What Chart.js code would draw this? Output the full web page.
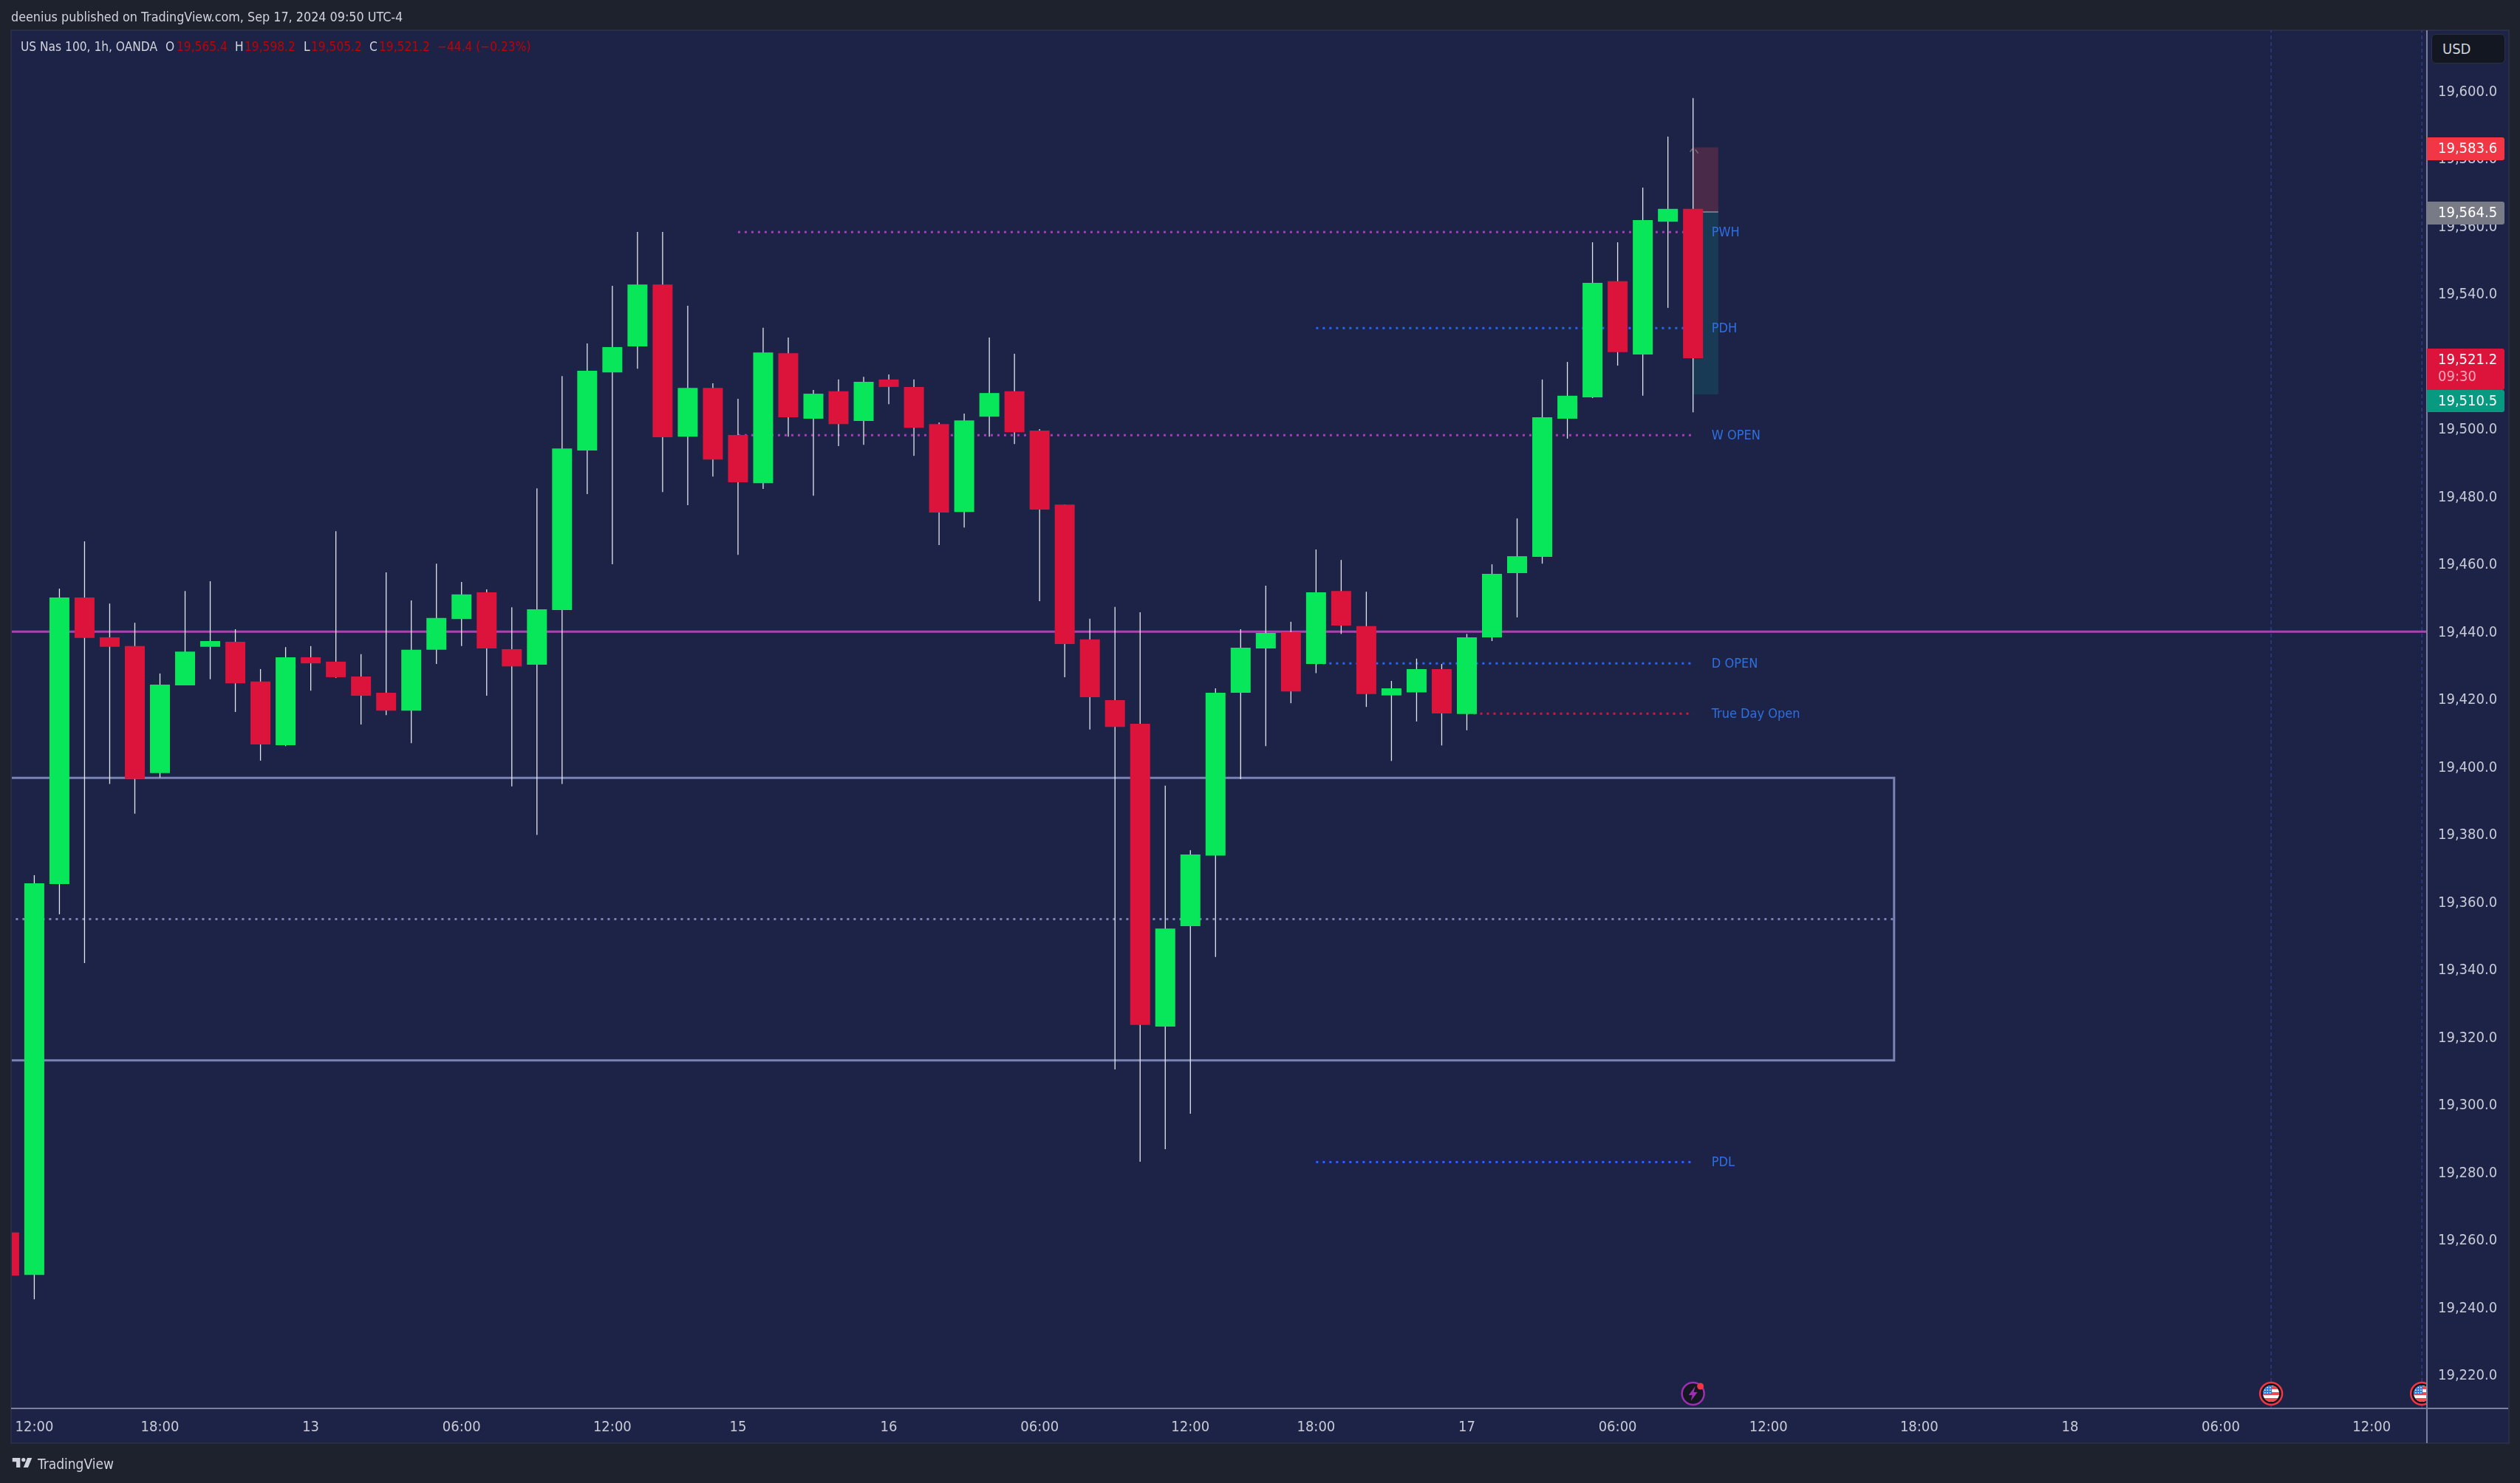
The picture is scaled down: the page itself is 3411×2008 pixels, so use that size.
<!DOCTYPE html>
<html><head><meta charset="utf-8">
<script src="https://cdn.jsdelivr.net/npm/chart.js@4"></script>
<style>
html,body{margin:0;padding:0;background:#1e222d;width:3411px;height:2008px;overflow:hidden;font-family:"DejaVu Sans Condensed","DejaVu Sans",sans-serif}
canvas{position:absolute;left:0;top:0}
.t{position:absolute;white-space:nowrap;font-size:17.2px;line-height:24px;color:#d1d4dc}
.r{color:#c40000}
#usd{position:absolute;left:3291px;top:46px;width:98px;height:38px;background:#131722;border:1px solid #2e3240;border-radius:6px;color:#d1d4dc;font-size:20px;line-height:38px;text-indent:14px}
</style></head><body>
<canvas id="c" width="3411" height="2008"></canvas>
<div class="t" style="left:15px;top:11px;font-size:17.8px">deenius published on TradingView.com, Sep 17, 2024 09:50 UTC-4</div>
<div class="t" style="left:28px;top:51px">US Nas 100, 1h, OANDA</div>
<div class="t" style="left:224px;top:51px">O</div><div class="t r" style="left:239px;top:51px">19,565.4</div>
<div class="t" style="left:318px;top:51px">H</div><div class="t r" style="left:331px;top:51px">19,598.2</div>
<div class="t" style="left:411px;top:51px">L</div><div class="t r" style="left:421px;top:51px">19,505.2</div>
<div class="t" style="left:500px;top:51px">C</div><div class="t r" style="left:513px;top:51px">19,521.2</div>
<div class="t r" style="left:592px;top:51px">−44.4 (−0.23%)</div>
<div id="usd">USD</div>
<svg style="position:absolute;left:15px;top:1973px" width="30" height="15" viewBox="0 6 34 15"><path fill="#d1d4dc" d="M14 6H2v6h6v9h6V6zm12 15h-7l6-15h7l-6 15zm-7-9a3 3 0 1 0 0-6 3 3 0 0 0 0 6z"/></svg>
<div class="t" style="left:51px;top:1970px;font-size:19px">TradingView</div>
<script>
const opens=[19262.5,19249.9,19365.6,19450.4,19438.6,19436,19398.4,19424.4,19435.8,19437.3,19425.5,19406.7,19432.7,19431.4,19427,19422.2,19416.9,19434.9,19444,19451.9,19435.1,19430.5,19446.7,19493.9,19517,19524.7,19543,19498,19512.4,19498.5,19484.2,19522.7,19503.3,19511.4,19502.6,19514.9,19512.7,19501.7,19475.7,19503.9,19511.4,19499.8,19477.9,19438,19420,19413,19323.4,19353.1,19374,19422.2,19435.3,19440.1,19430.7,19452.3,19441.9,19421.4,19422.3,19429.2,19415.9,19438.6,19457.6,19462.4,19503.3,19509.6,19544,19522.3,19561.6,19565.4];
const highs=[19262.5,19368.2,19453,19467,19448.6,19442.9,19427.9,19452.3,19455.2,19441,19429.2,19435.7,19436,19470,19433.6,19457.8,19449.5,19460.4,19455,19452.8,19447.5,19482.7,19515.9,19525.6,19542.6,19558.6,19558.6,19536.7,19513.8,19509.2,19530.2,19527.3,19511.8,19514.9,19515.7,19516.4,19514.9,19502.2,19504.8,19527.3,19522.5,19500.2,19477.9,19444.1,19447.6,19446,19394.7,19375.6,19423.5,19441,19453.9,19443.2,19464.6,19461.5,19452.1,19425.7,19432.3,19430.7,19439.6,19460.2,19473.8,19514.9,19520.1,19555.5,19555.5,19571.7,19586.8,19598.2];
const lows=[19249.7,19242.7,19356.6,19342.2,19395.2,19386.4,19397.1,19424.4,19426.2,19416.5,19402.1,19406.4,19422.8,19426.6,19412.8,19415.6,19407.3,19430.7,19436,19421.3,19394.5,19380.1,19395.2,19481,19460.2,19518.1,19481.6,19477.7,19486.2,19463,19482.5,19498,19480.5,19495.2,19495.6,19507.6,19492.3,19465.9,19471.1,19498,19495.8,19449.3,19426.8,19411.3,19310.7,19283.4,19287.1,19297.6,19344,19396.6,19406.4,19419.1,19428,19439.6,19418,19402,19413.7,19406.6,19411.1,19437.5,19444.5,19460.4,19497.4,19509.4,19519,19510.1,19536.1,19505.2];
const closes=[19249.7,19365.8,19450.4,19438.4,19435.8,19396.7,19424.6,19434.4,19437.5,19425,19406.9,19432.7,19430.9,19426.8,19421.3,19416.9,19434.9,19444.3,19451.3,19435.3,19430,19446.9,19494.5,19517.5,19524.5,19543,19497.8,19512.4,19491.2,19484.5,19522.9,19503.7,19510.7,19501.7,19514.2,19512.7,19500.6,19475.5,19502.8,19510.9,19499.3,19476.4,19436.6,19420.9,19412.1,19323.9,19352.4,19374.3,19422.2,19435.5,19439.9,19422.6,19451.9,19442.1,19421.8,19423.5,19429.2,19416.1,19438.6,19457.4,19462.6,19503.7,19510.1,19543.5,19523,19562.1,19565.4,19521.2];
const timeTickBars=[1,6,12,18,24,29,35,41,47,52,58,64,70,76,82,88,94];
const timeTickLabels=["12:00","18:00","13","06:00","12:00","15","16","06:00","12:00","18:00","17","06:00","12:00","18:00","18","06:00","12:00"];
const priceTicks=[19220,19240,19260,19280,19300,19320,19340,19360,19380,19400,19420,19440,19460,19480,19500,19520,19540,19560,19580,19600];
const levelNames=["PWH","PDH","W OPEN","D OPEN","True Day Open","PDL"];
const levelPrices=[19558.5,19530.1,19498.4,19430.9,19416,19283.3];
const levelStarts=[29,52,29,52,58,52];
const levelEnd=67;
const levelColors=["#a83db8","#2962ff","#a83db8","#2962ff","#dc143c","#2962ff"];
const labelBar=67.74;
const boxTop=19397, boxBottom=19313.4, boxMid=19355.2, boxEnd=75;
const pivotPrice=19440.3;
const stopPrice=19583.6, entryPrice=19564.5, targetPrice=19510.5, lastClose=19521.2;
const eventBars=[90,96];
const newsBar=67;
const xMin=0.106,xMax=96.2,yMin=19210.4,yMax=19618.25;

const GREEN="#08e65a",RED="#dc143c",WICK="#e4e6ee";
const FONT='"DejaVu Sans Condensed","DejaVu Sans",sans-serif';
const fmt=v=>v.toLocaleString("en-US",{minimumFractionDigits:1,maximumFractionDigits:1});
const bars=opens.map((_,i)=>i);

function lineDs(points,color,width,dash,order){
  return {type:"line",data:points,borderColor:color,borderWidth:width,borderDash:dash||[],pointRadius:0,tension:0,order:order,borderCapStyle:"butt",borderJoinStyle:"miter",parsing:true};
}
const datasets=[];
// candle bodies and wicks
datasets.push({label:"Body",data:bars.map(i=>({x:i,y:[opens[i],closes[i]]})),backgroundColor:bars.map(i=>closes[i]>=opens[i]?GREEN:RED),barThickness:27,grouped:false,order:1,borderWidth:0,inflateAmount:0});
datasets.push({label:"Wick",data:bars.map(i=>({x:i,y:[lows[i],highs[i]]})),backgroundColor:WICK,barThickness:1.3,grouped:false,order:2,borderWidth:0,inflateAmount:0});
// levels
levelPrices.forEach((p,k)=>datasets.push(lineDs([{x:levelStarts[k],y:p},{x:levelEnd,y:p}],levelColors[k],3,[3,6],5)));
datasets.push(lineDs([{x:0,y:pivotPrice},{x:100,y:pivotPrice}],"#a843b5",3,[],4));
datasets.push(lineDs([{x:0,y:boxTop},{x:boxEnd,y:boxTop},{x:boxEnd,y:boxBottom},{x:0,y:boxBottom}],"#7a84b4",3,[],4));
datasets.push(lineDs([{x:0,y:boxMid},{x:boxEnd,y:boxMid}],"#7a84b4",3,[3,6],4));
eventBars.forEach(b=>datasets.push(lineDs([{x:b,y:yMin},{x:b,y:yMax}],"#3c48a6",1,[5,4],6)));
// position tool
datasets.push({label:"Risk",data:[{x:67.5,y:[entryPrice,stopPrice]}],backgroundColor:"#492a48",barThickness:34.5,grouped:false,order:8,borderWidth:0,inflateAmount:0});
datasets.push({label:"Reward",data:[{x:67.5,y:[targetPrice,entryPrice]}],backgroundColor:"#193a54",barThickness:34.5,grouped:false,order:8,borderWidth:0,inflateAmount:0});
datasets.push(lineDs([{x:67,y:entryPrice},{x:68,y:entryPrice}],"#8b8e99",1.5,[],7));

const overlay={id:"overlay",
  beforeDraw(ch){const c=ch.ctx;c.save();
    c.fillStyle="#1e222d";c.fillRect(0,0,3411,2008);
    c.fillStyle="#1c2347";c.fillRect(15,41,3381,1913);
    c.strokeStyle="#2a2e45";c.lineWidth=2;c.strokeRect(15,41,3381,1913);
    c.restore();},
  afterDatasetsDraw(ch){const c=ch.ctx,X=ch.scales.x,Y=ch.scales.y,A=ch.chartArea;c.save();
    // level captions
    c.font='18px '+FONT;c.fillStyle="#2f6fe0";c.textBaseline="middle";c.textAlign="left";
    levelNames.forEach((n,k)=>c.fillText(n,X.getPixelForValue(labelBar),Y.getPixelForValue(levelPrices[k])+1));
    // caret of the position tool
    const cx=X.getPixelForValue(newsBar),cy=Y.getPixelForValue(stopPrice);
    c.strokeStyle="#6a6c78";c.lineWidth=1.5;c.beginPath();c.moveTo(cx-4,cy+6);c.lineTo(cx-1,cy+2);c.moveTo(cx+3,cy+3);c.lineTo(cx+7,cy+8);c.stroke();
    // markers
    c.beginPath();c.rect(A.left,A.top,A.right-A.left,A.bottom-A.top);c.clip();
    const my=1887;
    const nx=X.getPixelForValue(newsBar);
    c.beginPath();c.arc(nx,my,15,0,Math.PI*2);c.fillStyle="#131722";c.fill();c.strokeStyle="#9c2fb0";c.lineWidth=2.5;c.stroke();
    c.fillStyle="#9c2fb0";c.beginPath();c.moveTo(nx+3,my-10);c.lineTo(nx-6,my+2);c.lineTo(nx-1,my+2);c.lineTo(nx-3,my+10);c.lineTo(nx+6,my-2);c.lineTo(nx+1,my-2);c.closePath();c.fill();
    c.beginPath();c.arc(nx+10,my-10,4.5,0,Math.PI*2);c.fillStyle="#f23645";c.fill();
    eventBars.forEach(b=>{const x=X.getPixelForValue(b);
      c.save();
      c.beginPath();c.arc(x,my,15,0,Math.PI*2);c.fillStyle="#131722";c.fill();c.strokeStyle="#f23645";c.lineWidth=2.5;c.stroke();
      c.beginPath();c.arc(x,my,11,0,Math.PI*2);c.clip();
      c.fillStyle="#fff";c.fillRect(x-12,my-12,24,24);
      c.fillStyle="#f0484f";for(let i=0;i<3;i++)c.fillRect(x-12,my-10+i*8,24,4);
      c.fillRect(x-12,my+6,24,6);
      c.fillStyle="#2d7de0";c.fillRect(x-12,my-12,13,13);
      c.fillStyle="#fff";for(let i=0;i<3;i++)for(let j=0;j<3;j++)c.fillRect(x-9+i*3.5,my-9+j*3.5,1.5,1.5);
      c.restore();});
    c.restore();},
  afterDraw(ch){const c=ch.ctx,Y=ch.scales.y,A=ch.chartArea;c.save();
    // axis borders
    c.fillStyle="#7c7f9e";c.fillRect(A.left-1,A.bottom-1,3396-A.left,2);c.fillRect(A.right-1,41,2,1913);
    // price tags
    const x0=A.right,w=105;
    c.textBaseline="middle";c.textAlign="left";
    function tag(top,h,col,txt){c.fillStyle=col;c.beginPath();c.roundRect(x0,top,w,h,[0,3,3,0]);c.fill();
      c.fillStyle="#fff";c.font='20px '+FONT;c.fillText(txt,x0+15,top+15.5);}
    tag(Y.getPixelForValue(stopPrice)-13.5,31,"#f23645",fmt(stopPrice));
    tag(Y.getPixelForValue(entryPrice)-14,31,"#787b86",fmt(entryPrice));
    const ct=Y.getPixelForValue(lastClose)-13;
    tag(ct,56,"#dc143c",fmt(lastClose));
    c.fillStyle="rgba(255,255,255,.62)";c.font='20px '+FONT;c.fillText("09:30",x0+15,ct+39);
    tag(ct+56,30,"#089981",fmt(targetPrice));
    c.restore();}
};

new Chart(document.getElementById("c"),{
  type:"bar",
  data:{datasets},
  plugins:[overlay],
  options:{
    responsive:false,animation:false,devicePixelRatio:1,
    layout:{padding:{left:16,top:41,right:15,bottom:54}},
    plugins:{legend:{display:false},tooltip:{enabled:false},title:{display:false}},
    scales:{
      x:{type:"linear",offset:false,min:xMin,max:xMax,grid:{display:false,drawTicks:false},border:{display:false},
        afterBuildTicks(s){s.ticks=timeTickBars.map(v=>({value:v}));},
        afterFit(s){s.height=47;},
        ticks:{autoSkip:false,maxRotation:0,minRotation:0,padding:14,color:"#c8cad6",font:{family:FONT,size:20},
          callback(v){const k=timeTickBars.indexOf(v);return k<0?"":timeTickLabels[k];}}},
      y:{type:"linear",position:"right",min:yMin,max:yMax,grid:{display:false,drawTicks:false},border:{display:false},
        afterBuildTicks(s){s.ticks=priceTicks.map(v=>({value:v}));},
        afterFit(s){s.width=111;},
        ticks:{autoSkip:false,padding:15,color:"#c8cad6",font:{family:FONT,size:20},callback:v=>fmt(v)}}
    }
  }
});
</script></body></html>
